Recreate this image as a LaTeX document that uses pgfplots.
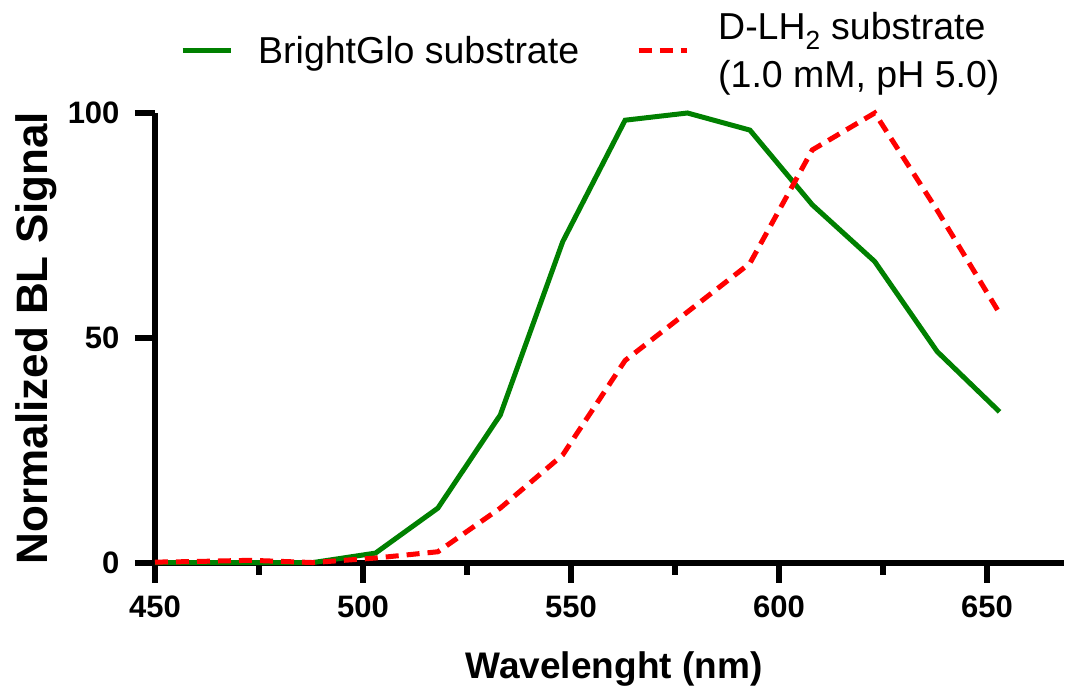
\documentclass[border=0pt]{standalone}
\usepackage{fontspec}
\setmainfont{Liberation Sans}
\usepackage{pgfplots}
\pgfplotsset{compat=1.18}
\definecolor{bgreen}{HTML}{008000}
\definecolor{dred}{HTML}{FF0000}

\begin{document}
\begin{tikzpicture}
\useasboundingbox (-155bp,-129bp) rectangle (910bp,563bp);
\begin{axis}[
  at={(0,0)}, anchor=south west,
  scale only axis, width=909bp, height=450bp,
  xmin=450, xmax=668.5, ymin=0, ymax=100,
  clip=false,
  axis x line=bottom, axis y line=left,
  axis line style={line width=6bp, -},
  xtick={450,500,...,650}, ytick={0,50,100},
  minor x tick num=1, minor y tick num=0,
  tick align=outside,
  major tick length=20bp, minor tick length=12bp,
  tick style={line width=6bp, black},
  /pgf/number format/assume math mode=true,
  ticklabel style={font=\bfseries\fontsize{31bp}{36bp}\selectfont},
  xticklabel style={yshift=-9bp},
  yticklabel style={xshift=-12bp},
  xlabel={Wavelenght (nm)},
  ylabel={Normalized BL Signal},
  xlabel style={font=\bfseries\fontsize{37bp}{42bp}\selectfont,
    at={(axis description cs:0.505,-0.2556)}, anchor=base},
  ylabel style={font=\bfseries\fontsize{44bp}{50bp}\selectfont,
    at={(axis description cs:-0.1188,0.5)}, anchor=base},
  legend columns=2,
  legend cell align=left,
  legend image code/.code={\draw[#1] (0bp,0bp) -- (48bp,0bp);},
  legend style={draw=none, fill=none, inner sep=0pt,
    at={(axis description cs:0.0275,1.1378)}, anchor=west,
    font=\fontsize{37.5bp}{48bp}\selectfont,
    nodes={inner sep=0pt},
    cells={align=left},
    /tikz/column 1/.style={column sep=25bp},
    /tikz/column 2/.style={column sep=57bp},
    /tikz/column 3/.style={column sep=29bp}},
]
\addplot[bgreen, line width=5bp] coordinates {
  (450,0.1) (458,0.1) (473,0.1) (488,0.1) (503,2.2) (518,12.2) (533,32.9)
  (548,71.4) (563,98.4) (578,100) (593,96.2) (608,79.6) (623,67)
  (638,47) (653,33.6)};
\addlegendentry{BrightGlo substrate}
\addplot[dred, line width=5bp, dash pattern=on 13bp off 8bp] coordinates {
  (450,0.2) (458,0.3) (473,0.6) (488,0.1) (503,1.1) (518,2.5) (533,12.2)
  (548,24) (563,45) (578,55.8) (593,66.6) (608,91.8) (623,100)
  (638,78.4) (653,55.5)};
\addlegendentry{D-LH\textsubscript{2} substrate\\(1.0 mM, pH 5.0)}
\end{axis}
\end{tikzpicture}
\end{document}
